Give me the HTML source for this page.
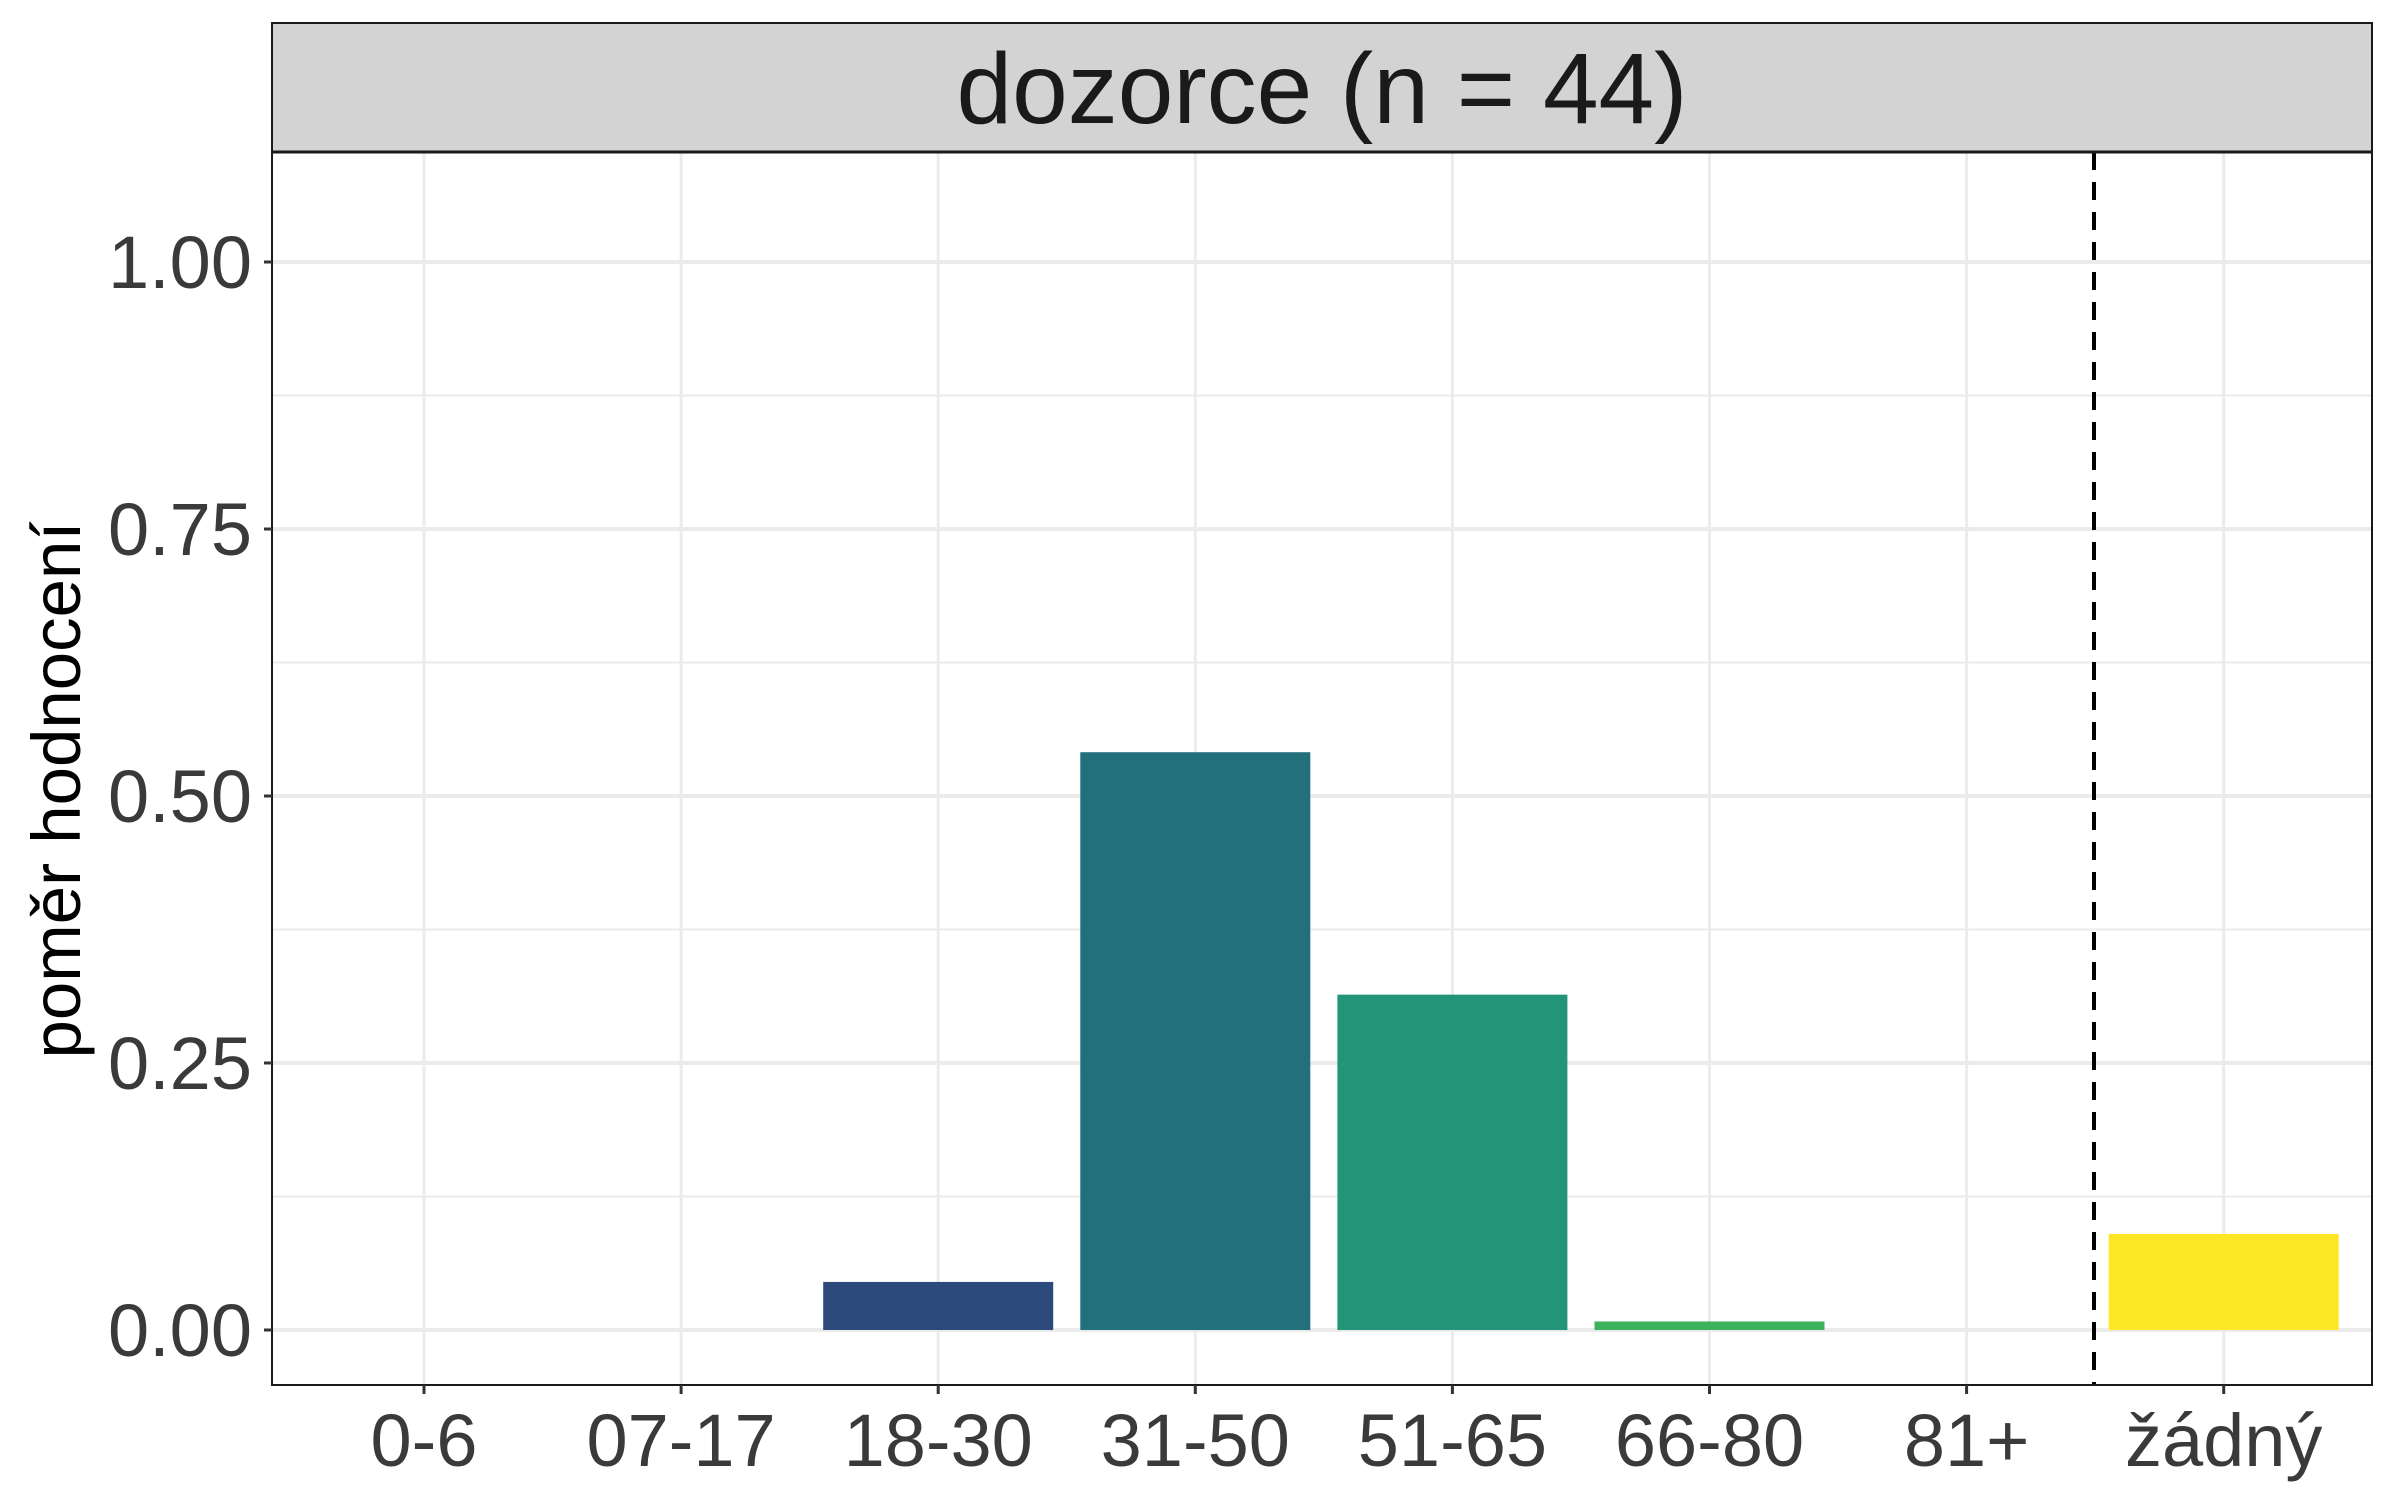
<!DOCTYPE html>
<html><head><meta charset="utf-8"><style>
body{margin:0;background:#fff;}
svg{display:block;font-family:"Liberation Sans",Arial,sans-serif;}
</style></head><body>
<svg id="chart" width="2400" height="1500" viewBox="0 0 2400 1500">
<rect x="0" y="0" width="2400" height="1500" fill="#fff"/>
<g id="grid"></g>
<g id="bars"></g>
<line x1="2094" x2="2094" y1="152" y2="1385" stroke="#000" stroke-width="4" stroke-dasharray="18,12"/>
<rect x="272" y="152" width="2100" height="1233" fill="none" stroke="#1a1a1a" stroke-width="2"/>
<rect x="272" y="23" width="2100" height="129" fill="#d3d3d3" stroke="#1a1a1a" stroke-width="2"/>
<line x1="272" x2="2372" y1="152" y2="152" stroke="#1a1a1a" stroke-width="3"/>
<text x="1322" y="123" text-anchor="middle" font-size="100" fill="#1a1a1a">dozorce (n = 44)</text>
<g id="yaxis"></g>
<g id="xaxis"></g>
<text transform="translate(80,790) rotate(-90)" text-anchor="middle" font-size="69" fill="#000">poměr hodnocení</text>
</svg>
<script>
const categories=["0-6","07-17","18-30","31-50","51-65","66-80","81+","žádný"];
const values=[0,0,0.045,0.541,0.314,0.008,0,0.09];
const colors=["#440154","#3b528b","#2c4a7c","#21707c","#21947a","#3cb25c","#8fd744","#fde725"];
const yTicks=[0,0.25,0.5,0.75,1];
const yTickLabels=["0.00","0.25","0.50","0.75","1.00"];
const yMinor=[0.125,0.375,0.625,0.875];
const NS="http://www.w3.org/2000/svg";
const L=272,R=2372,T=152,B=1385;
function y(v){return 1330-v*(1330-262);}
function x(i){return 424+i*257.1;}
const bw=230;
function mk(tag,attrs,parent){const e=document.createElementNS(NS,tag);for(const k in attrs)e.setAttribute(k,attrs[k]);parent.appendChild(e);return e;}
const grid=document.getElementById('grid'),bars=document.getElementById('bars'),ya=document.getElementById('yaxis'),xa=document.getElementById('xaxis');
yMinor.forEach(v=>{const l=mk('line',{x1:L,x2:R,y1:y(v),y2:y(v),stroke:'#ebebeb','stroke-width':2},grid);

});
yTicks.forEach((v,i)=>{const l=mk('line',{x1:L,x2:R,y1:y(v),y2:y(v),stroke:'#ebebeb','stroke-width':4},grid);


const t=mk('line',{x1:L-8,x2:L,y1:y(v),y2:y(v),stroke:'#333','stroke-width':3},ya);


const tx=mk('text',{x:L-20,y:y(v)+26,'text-anchor':'end','font-size':74,fill:'#3a3a3a'},ya);tx.textContent=yTickLabels[i];

});
categories.forEach((c,i)=>{const g=mk('line',{x1:x(i),x2:x(i),y1:T,y2:B,stroke:'#ebebeb','stroke-width':3},grid);


if(values[i]>0){const r=mk('rect',{x:x(i)-bw/2,y:y(values[i]),width:bw,height:y(0)-y(values[i]),fill:colors[i]},bars);

}
const t=mk('line',{x1:x(i),x2:x(i),y1:B,y2:B+9,stroke:'#333','stroke-width':3},xa);


const tx=mk('text',{x:x(i),y:1466,'text-anchor':'middle','font-size':74,fill:'#3a3a3a'},xa);tx.textContent=c;

});
</script>
</body></html>
